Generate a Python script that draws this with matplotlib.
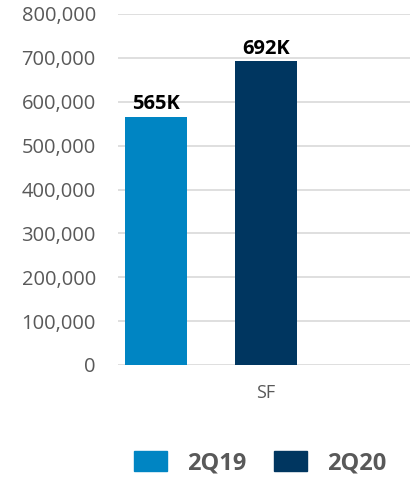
import matplotlib
matplotlib.use("Agg")
import matplotlib.pyplot as plt
from matplotlib.patches import Patch
from matplotlib.ticker import FuncFormatter

categories = ["SF"]
series_names = ["2Q19", "2Q20"]
values = [565000, 692000]
labels = ["565K", "692K"]
colors = ["#0085C3", "#003660"]
yticks = [0, 100000, 200000, 300000, 400000, 500000, 600000, 700000, 800000]

plt.rcParams['font.family'] = ['Open Sans', 'DejaVu Sans']

fig = plt.figure(figsize=(4.18, 4.8), dpi=100)
ax = fig.add_axes([118/418, 1-365/480, (410-118)/418, (365-14)/480])

width = 0.564
positions = [0, 1]
for pos, v, c, lab in zip(positions, values, colors, labels):
    ax.bar(pos, v, width=width, color=c, zorder=3)
    ax.text(pos, v + 6000, lab, ha='center', va='bottom', fontsize=14.5,
            fontweight='bold', color='black', zorder=4)

ax.set_xlim(-0.345, 2.309)
ax.set_ylim(0, 800000)
ax.set_yticks(yticks)
ax.yaxis.set_major_formatter(FuncFormatter(lambda v, p: f"{int(v):,}"))
ax.set_xticks([1])
ax.set_xticklabels(categories)
ax.grid(axis='y', color='#D9D9D9', linewidth=1.2, zorder=0)
for s in ax.spines.values():
    s.set_visible(False)
ax.tick_params(axis='y', length=0, pad=16, labelsize=14.5, labelcolor='#595959')
ax.tick_params(axis='x', length=0, pad=14, labelsize=13, labelcolor='#595959')

handles = [Patch(color=c) for c in colors]
leg = fig.legend(handles, series_names, loc='center', bbox_to_anchor=(260/418, 1-463/480),
                 ncol=2, frameon=False, handlelength=1.4, handleheight=0.95,
                 columnspacing=1.15, handletextpad=0.85,
                 prop={'weight': 'bold', 'size': 17})
for t in leg.get_texts():
    t.set_color('#595959')

fig.savefig("out.png", dpi=100)
